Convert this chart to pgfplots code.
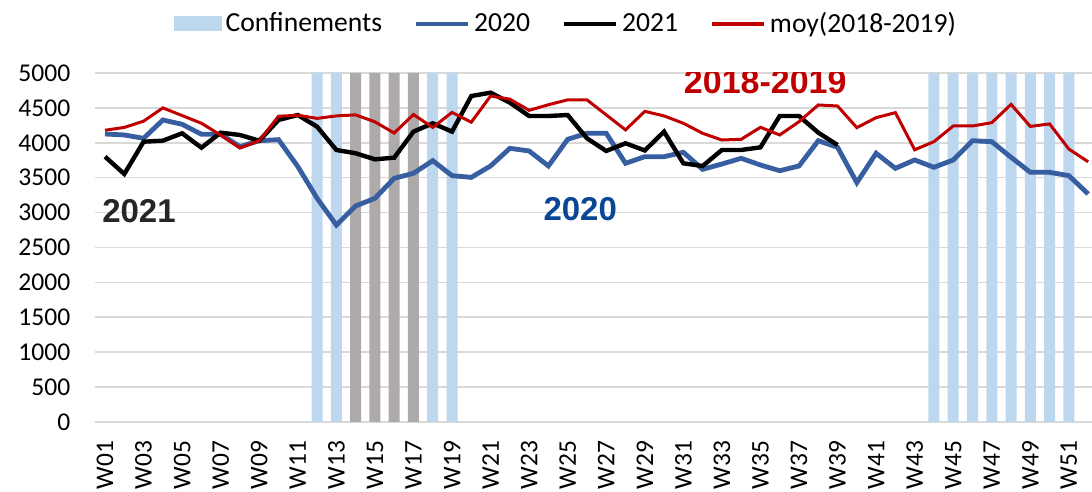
\documentclass[border=0pt]{standalone}
\usepackage{fontspec}
\setmainfont{Carlito}
\newfontfamily\arialfont{Liberation Sans}
\usepackage{pgfplots}
\pgfplotsset{compat=1.18}
\usetikzlibrary{calc}
\definecolor{confblue}{RGB}{189,215,238}
\definecolor{confgray}{RGB}{174,170,170}
\definecolor{line2020}{RGB}{55,94,160}
\definecolor{line2021}{RGB}{0,0,0}
\definecolor{linemoy}{RGB}{192,0,0}
\definecolor{gridgray}{RGB}{217,217,217}
\definecolor{txt2020}{RGB}{10,70,150}
\definecolor{txt2021}{RGB}{38,38,38}
\pgfplotsset{
  lineleg/.style={legend image code/.code={\draw[##1, line width=2pt] (0pt,0pt) -- (26pt,0pt);}},
  barleg/.style={legend image code/.code={\fill[confblue] (0pt,-3.75pt) rectangle (24pt,3.75pt);}},
}
\begin{document}
\begin{tikzpicture}
\begin{axis}[
  name=ax,
  scale only axis,
  width=498.3pt, height=174.5pt,
  xmin=0.5, xmax=52.2,
  ymin=0, ymax=5000,
  axis line style={draw=none},
  major tick length=0pt,
  ytick={0,500,...,5000},
  ymajorgrids,
  grid style={gridgray, line width=0.8pt},
  xtick={1,3,...,51},
  xticklabels={W01,W03,W05,W07,W09,W11,W13,W15,W17,W19,W21,W23,W25,W27,W29,W31,W33,W35,W37,W39,W41,W43,W45,W47,W49,W51},
  xticklabel style={yshift=-6pt, rotate=90, anchor=east, font=\fontsize{12.7}{15}\selectfont},
  yticklabel style={xshift=-9pt, font=\fontsize{12.8}{15}\selectfont},
  /pgf/number format/.cd, 1000 sep={}, assume math mode=true, /pgfplots/.cd,
  legend columns=4,
  legend style={draw=none, fill=none, at={(0.473,1.141)}, anchor=center,
    font=\fontsize{13.8}{16}\selectfont,
    /tikz/every even column/.append style={column sep=14pt}},
  clip=true,
]
\addplot[ybar, bar width=5.5pt, bar shift=0pt, fill=confblue, draw=none, barleg]
  coordinates {(12,5000)(13,5000)(18,5000)(19,5000)(44,5000)(45,5000)(46,5000)(47,5000)(48,5000)(49,5000)(50,5000)(51,5000)};
\addlegendentry{Confinements}
\addplot[ybar, bar width=5.5pt, bar shift=0pt, fill=confgray, draw=none, forget plot]
  coordinates {(14,5000)(15,5000)(16,5000)(17,5000)};
\addplot[line2020, line width=2.4pt, no marks, lineleg]
  coordinates {(1,4126)(2,4112)(3,4064)(4,4327)(5,4265)(6,4122)(7,4122)(8,3945)(9,4030)(10,4045)
  (11,3660)(12,3205)(13,2822)(14,3095)(15,3205)(16,3491)(17,3563)(18,3744)(19,3529)(20,3505)
  (21,3668)(22,3921)(23,3883)(24,3668)(25,4050)(26,4136)(27,4136)(28,3706)(29,3801)(30,3801)
  (31,3864)(32,3620)(33,3696)(34,3778)(35,3682)(36,3600)(37,3668)(38,4030)(39,3935)(40,3429)
  (41,3850)(42,3634)(43,3754)(44,3649)(45,3754)(46,4030)(47,4016)(48,3792)(49,3577)(50,3577)
  (51,3529)(52,3267)};
\addlegendentry{2020}
\addplot[line2021, line width=2.2pt, no marks, lineleg]
  coordinates {(1,3801)(2,3553)(3,4016)(4,4030)(5,4136)(6,3930)(7,4145)(8,4112)(9,4030)(10,4327)
  (11,4398)(12,4231)(13,3897)(14,3850)(15,3763)(16,3787)(17,4160)(18,4279)(19,4160)(20,4670)
  (21,4718)(22,4575)(23,4384)(24,4384)(25,4398)(26,4064)(27,3883)(28,3993)(29,3890)(30,4160)
  (31,3706)(32,3668)(33,3897)(34,3897)(35,3935)(36,4384)(37,4384)(38,4145)(39,3968)};
\addlegendentry{2021}
\addplot[linemoy, line width=1.5pt, no marks, lineleg]
  coordinates {(1,4180)(2,4220)(3,4310)(4,4500)(5,4390)(6,4280)(7,4110)(8,3925)(9,4030)(10,4380)
  (11,4395)(12,4350)(13,4385)(14,4400)(15,4300)(16,4140)(17,4405)(18,4220)(19,4435)(20,4295)
  (21,4670)(22,4625)(23,4465)(24,4545)(25,4615)(26,4615)(27,4400)(28,4185)(29,4450)(30,4385)
  (31,4280)(32,4136)(33,4040)(34,4050)(35,4222)(36,4112)(37,4302)(38,4542)(39,4527)(40,4217)
  (41,4360)(42,4432)(43,3900)(44,4016)(45,4241)(46,4241)(47,4288)(48,4550)(49,4235)(50,4270)
  (51,3910)(52,3728)};
\addlegendentry{moy(2018-2019)}
\node[text=txt2021, font=\arialfont\bfseries\fontsize{16.5}{19}\selectfont] at (axis cs:2.76,3023) {2021};
\node[text=txt2020, font=\arialfont\bfseries\fontsize{16.5}{19}\selectfont] at (axis cs:25.65,3052) {2020};
\node[text=linemoy, font=\arialfont\bfseries\fontsize{17}{19}\selectfont] at (axis cs:35.25,4871) {2018-2019};
\end{axis}
\pgfresetboundingbox
\path[shift={(ax.south west)}] (-47.7pt,-35pt) rectangle (498.3pt,211pt);
\end{tikzpicture}
\end{document}
